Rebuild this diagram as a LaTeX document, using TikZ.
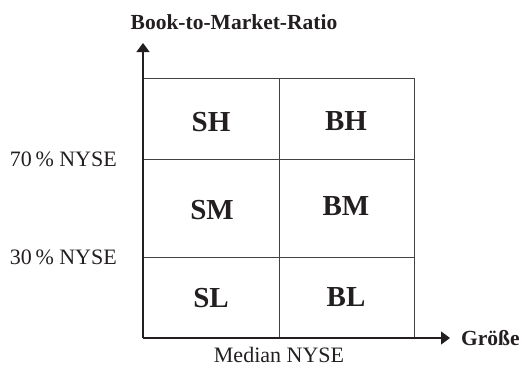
\documentclass[tikz,border=0pt]{standalone}
\usepackage{fontspec}
\setmainfont{Liberation Serif}
\usetikzlibrary{arrows.meta}
\definecolor{ink}{HTML}{231F20}
\begin{document}
\begin{tikzpicture}[x=1pt,y=-1pt,
  axisline/.style={draw=ink,line width=1.3pt,-{Triangle[length=9pt,width=13pt]}},
  gridline/.style={draw=ink!85,line width=1pt},
  cell/.style={font=\fontsize{29}{31}\selectfont\bfseries,text=ink,inner sep=0pt},
  lab/.style={font=\fontsize{22}{24}\selectfont,text=ink,inner sep=0pt},
  title/.style={font=\fontsize{21.5}{24}\selectfont\bfseries,text=ink,inner sep=0pt}]
\useasboundingbox (0,0) rectangle (523,372);
\coordinate (O) at (143,338);
\coordinate (ytip) at (143,43);
\coordinate (xtip) at (450,338);
\coordinate (tl) at (143,78);
\coordinate (tm) at (279,78);
\coordinate (tr) at (414,78);
\coordinate (bm) at (279,338);
\coordinate (br) at (414,338);
\coordinate (l70) at (143,159);
\coordinate (r70) at (414,159);
\coordinate (l30) at (143,257);
\coordinate (r30) at (414,257);
\draw[gridline] (tl) -- (tr) -- (br);
\draw[gridline] (tm) -- (bm);
\draw[gridline] (l70) -- (r70);
\draw[gridline] (l30) -- (r30);
\draw[axisline] (O) -- (ytip);
\draw[axisline] (O) -- (xtip);
\node[cell] (SH) at (211,122) {SH};
\node[cell] (BH) at (346,121) {BH};
\node[cell] (SM) at (212,210) {SM};
\node[cell] (BM) at (346,206) {BM};
\node[cell] (SL) at (211,298) {SL};
\node[cell] (BL) at (346,297) {BL};
\node[title] (ttl) at (234,22) {Book-to-Market-Ratio};
\node[title,anchor=west] (gr) at (461,338) {Größe};
\node[lab,anchor=east] (p70) at (117,159) {70\,\% NYSE};
\node[lab,anchor=east] (p30) at (117,257) {30\,\% NYSE};
\node[lab] (med) at (279,355) {Median NYSE};
\end{tikzpicture}
\end{document}
